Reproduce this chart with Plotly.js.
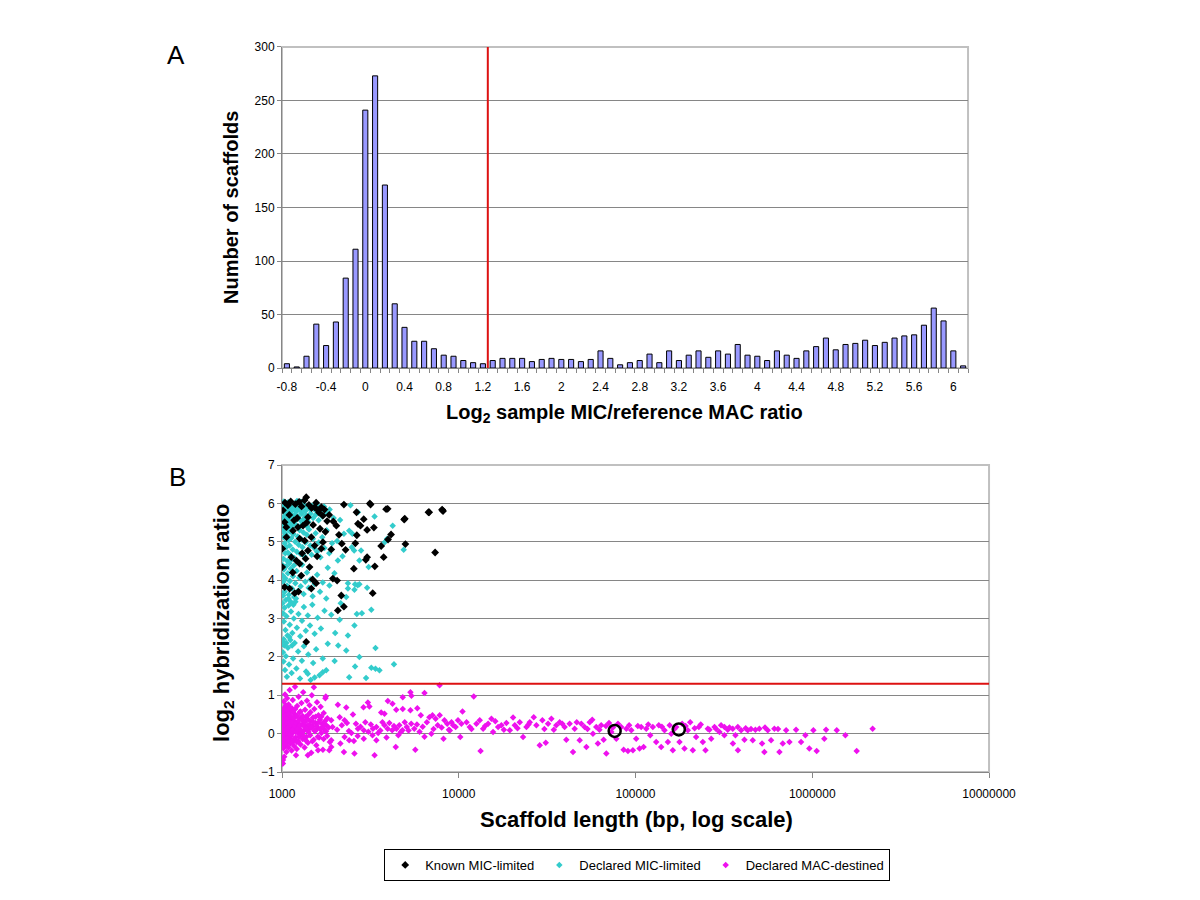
<!DOCTYPE html>
<html>
<head>
<meta charset="utf-8">
<script src="https://cdn.plot.ly/plotly-3.0.1.min.js"></script>
<style>
  body { margin: 0; background: #ffffff; }
  #chart { width: 1200px; height: 900px; }
</style>
</head>
<body>
<div id="chart"></div>
<script>
// Panel A: histogram of log2 MIC/MAC ratios (bins of 0.1)
const binCenters = [-0.8, -0.7, -0.6, -0.5, -0.4, -0.3, -0.2, -0.1, 0.0, 0.1,
  0.2, 0.3, 0.4, 0.5, 0.6, 0.7, 0.8, 0.9, 1.0, 1.1,
  1.2, 1.3, 1.4, 1.5, 1.6, 1.7, 1.8, 1.9, 2.0, 2.1,
  2.2, 2.3, 2.4, 2.5, 2.6, 2.7, 2.8, 2.9, 3.0, 3.1,
  3.2, 3.3, 3.4, 3.5, 3.6, 3.7, 3.8, 3.9, 4.0, 4.1,
  4.2, 4.3, 4.4, 4.5, 4.6, 4.7, 4.8, 4.9, 5.0, 5.1,
  5.2, 5.3, 5.4, 5.5, 5.6, 5.7, 5.8, 5.9, 6.0, 6.1];
const scaffoldCounts = [4, 1, 11, 41, 21, 43, 84, 111, 241, 273,
  171, 60, 38, 25, 25, 18, 12, 11, 7, 5,
  4, 7, 9, 9, 9, 6, 8, 9, 8, 8,
  6, 8, 16, 9, 3, 5, 7, 13, 5, 16,
  7, 12, 16, 10, 16, 13, 22, 12, 11, 7,
  16, 12, 9, 16, 20, 28, 17, 22, 23, 26,
  21, 24, 28, 30, 31, 40, 56, 44, 16, 2];
const histTickVals = [-0.8, -0.4, 0, 0.4, 0.8, 1.2, 1.6, 2, 2.4, 2.8, 3.2, 3.6, 4, 4.4, 4.8, 5.2, 5.6, 6];
const histTickText = ['-0.8', '-0.4', '0', '0.4', '0.8', '1.2', '1.6', '2', '2.4', '2.8', '3.2', '3.6', '4', '4.4', '4.8', '5.2', '5.6', '6'];
const histCutoff = 1.25;

// Panel B: [scaffold length (bp), log2 hybridization ratio]
const knownMic = [[1371,6.16],[2240,5.97],[3170,5.97],[3880,5.85],[6740,5.77],[8050,5.84],[8150,5.80],[4950,5.60],[2900,5.59],[2690,5.47],
  [2780,5.42],[3310,5.37],[3030,5.31],[2030,5.42],[1950,5.53],[1800,5.54],[1850,5.70],[1670,5.90],[4140,5.19],[3980,5.06],
  [3640,4.89],[3760,4.60],[4990,4.94],[7350,4.72],[2600,4.96],[2650,5.17],[2180,4.95],[2100,5.18],[1900,4.80],[3030,4.60],
  [2980,4.53],[3350,4.36],[2550,4.30],[2290,4.79],[1013,5.82],[1035,5.51],[1058,5.38],[1154,5.29],[1231,5.38],[1314,5.42],
  [1402,5.64],[1530,5.90],[1597,5.82],[1704,5.68],[1259,5.08],[1344,5.03],[1465,5.12],[1530,4.90],[1402,4.77],[1668,4.82],
  [1704,4.99],[1005,4.82],[1003,4.34],[1129,4.60],[1205,4.51],[1259,4.43],[1432,4.34],[1285,4.12],[1035,3.82],[1105,3.78],
  [1465,3.78],[1940,4.04],[2050,3.99],[2165,3.60],[2240,3.31],[2070,3.21],[3260,3.66],[1180,3.66],[1371,2.39],[2640,5.77],
  [3140,6.00],[3960,5.86],[4910,5.58],[6800,5.77],[8080,5.82],[1040,6.02],[1080,5.95],[1120,6.05],[1190,5.98],[1250,6.04],
  [1290,5.92],[1340,6.08],[1420,5.96],[1470,5.88],[1560,6.02],[1620,5.76],[1740,5.84],[1100,5.70],[1170,5.56],[1220,5.62],
  [1380,5.50],[1500,5.44],[1640,5.34],[1760,5.26],[1060,5.12],[1300,4.70],[1360,4.56],[1580,4.62],[1150,4.20],[1490,4.02],
  [1560,3.92],[1240,3.70]];

const declaredMic = [[1005,6.02],[1012,5.92],[1018,5.85],[1025,6.05],[1030,5.78],[1038,5.96],[1045,5.88],[1052,6.00],[1060,5.72],[1068,5.90],
  [1075,5.82],[1083,6.03],[1090,5.66],[1098,5.94],[1106,5.86],[1115,5.74],[1124,6.00],[1133,5.80],[1142,5.92],[1150,5.60],
  [1160,5.98],[1170,5.84],[1180,5.70],[1192,5.94],[1204,5.78],[1216,6.06],[1228,5.88],[1240,5.66],[1253,5.96],[1266,5.82],
  [1280,6.04],[1295,5.74],[1310,5.90],[1325,5.58],[1340,5.96],[1356,5.80],[1372,5.68],[1390,5.92],[1410,5.52],[1430,5.86],
  [1452,5.74],[1475,5.94],[1500,5.62],[1525,5.84],[1550,5.70],[1580,5.96],[1610,5.56],[1650,5.80],[1690,5.66],[1730,5.92],
  [1800,5.74],[1860,5.84],
  [1008,5.45],[1015,5.30],[1022,5.12],[1028,5.38],[1035,4.96],[1042,5.22],[1050,5.48],[1058,4.86],[1065,5.16],[1072,5.34],
  [1080,4.72],[1088,5.04],[1096,5.42],[1104,4.90],[1112,5.26],[1122,4.64],[1130,5.10],[1140,5.36],[1150,4.80],[1162,5.20],
  [1175,4.58],[1188,5.00],[1200,5.44],[1214,4.74],[1228,5.14],[1243,4.92],[1258,5.30],[1274,4.68],[1290,5.06],[1306,4.86],
  [1322,5.24],[1340,4.62],[1360,4.98],[1380,5.18],[1400,4.76],[1422,5.32],[1446,4.90],[1470,4.66],[1496,5.08],[1522,4.84],
  [1550,5.22],[1580,4.74],[1614,4.98],[1650,4.60],[1690,5.12],[1740,4.84],[1790,5.30],[1850,4.70],[1920,4.96],
  [1004,4.40],[1010,4.12],[1018,3.96],[1026,4.28],[1036,3.70],[1046,4.04],[1056,4.36],[1068,3.86],[1080,4.18],[1094,3.62],
  [1108,3.98],[1122,4.30],[1138,3.78],[1154,4.10],[1172,3.56],[1190,3.92],[1210,4.24],[1230,3.72],[1252,4.06],[1276,3.84],
  [1300,4.40],[1326,3.64],[1354,3.96],[1384,4.20],[1416,3.80],[1450,4.02],[1490,3.58],[1530,3.90],[1580,4.14],[1640,3.70],
  [1700,3.94],[1780,3.52],
  [1006,3.40],[1014,3.14],[1024,2.92],[1034,3.28],[1046,2.70],[1060,3.06],[1074,2.56],[1090,3.34],[1106,2.84],[1124,3.18],
  [1144,2.62],[1166,3.00],[1190,3.44],[1214,2.76],[1240,3.12],[1268,2.54],[1298,2.94],[1330,3.30],[1364,2.68],[1400,3.08],
  [1440,2.82],[1484,3.36],[1530,2.60],[1590,3.02],[1660,2.74],[1740,3.20],
  [1004,2.40],[1012,2.12],[1020,1.88],[1030,2.30],[1040,1.66],[1052,2.02],[1066,1.48],[1080,2.24],[1096,1.80],[1114,2.44],
  [1134,1.58],[1156,1.96],[1180,2.36],[1206,1.70],[1234,2.14],[1264,1.44],[1296,1.90],[1330,2.28],[1368,1.62],[1408,2.06],
  [1452,1.40],[1500,1.84],[1560,2.20],[1630,1.52],[1700,1.96],
  [2440,5.95],[2690,5.77],[3340,5.66],[2130,5.57],[4230,5.42],[2400,5.29],[2500,5.21],[3930,5.08],[3810,4.99],[4880,4.79],
  [2240,5.21],[2480,4.86],[2560,4.77],[2070,4.51],[2800,4.77],[3090,4.34],[1815,4.32],[2740,4.51],[2360,3.78],[2680,3.87],
  [3030,3.80],[1855,3.86],[2360,3.92],[2590,3.89],[2740,3.89],[2570,3.75],[2310,3.56],[2650,3.12],[2830,3.14],[3200,3.23],
  [2120,2.97],[2570,2.82],[2360,2.56],[1815,2.34],[2310,2.17],[3380,2.23],[1985,1.89],[2740,2.00],[2590,1.75],[3200,1.72],
  [3380,1.69],[3560,1.65],[4300,1.81],[2990,1.45],[2400,1.47],[1780,1.65],[1700,1.60],[1400,1.56],[1530,1.46],
  [1960,5.62],[2050,5.02],[2200,4.62],[1980,4.18],[2150,3.40],[1900,3.10],[2000,2.62],[2080,2.30],
  [1010,5.62],[1032,5.54],[1048,5.70],[1070,5.58],[1094,5.50],[1118,5.64],[1146,5.46],[1176,5.52],[1208,5.60],[1236,5.40],
  [1270,5.56],[1302,5.46],[1346,5.64],[1386,5.40],[1020,4.56],[1044,4.70],[1070,4.50],[1100,4.44],[1136,4.54],[1168,4.38],
  [1016,3.60],[1052,3.48],[1088,3.52],[1120,3.44],[1160,3.36],[1200,3.52],[1022,2.46],[1058,2.36],[1100,2.52],[1140,2.30]];

const declaredMac = [[1002,0.12],[1004,-0.22],[1006,0.45],[1008,0.02],[1010,-0.78],[1012,0.30],[1014,-0.10],[1016,0.62],[1018,0.18],[1020,-0.38],
  [1022,0.08],[1024,0.84],[1026,-0.04],[1028,0.36],[1030,-0.60],[1032,0.22],[1034,0.54],[1036,-0.16],[1038,0.10],[1040,1.02],
  [1042,0.28],[1044,-0.30],[1046,0.04],[1048,0.70],[1050,0.16],[1053,-0.08],[1056,0.40],[1059,-0.48],[1062,0.24],[1065,0.06],
  [1068,0.92],[1071,-0.20],[1074,0.50],[1077,0.14],[1080,-0.02],[1083,0.32],[1086,-0.36],[1089,0.76],[1092,0.20],[1095,0.00],
  [1098,0.44],[1101,-0.12],[1105,1.14],[1109,0.26],[1113,-0.26],[1117,0.58],[1121,0.10],[1125,-0.06],[1129,0.38],[1133,-0.44],
  [1137,0.66],[1141,0.18],[1145,0.02],[1150,0.88],[1155,-0.18],[1160,0.34],[1165,0.12],[1170,-0.32],[1175,0.52],[1180,0.06],
  [1185,1.22],[1190,0.22],[1195,-0.10],[1200,0.46],[1206,0.14],[1212,-0.40],[1218,0.72],[1224,0.04],[1230,0.30],[1236,-0.20],
  [1242,0.96],[1248,0.18],[1254,-0.02],[1260,0.56],[1267,0.10],[1274,-0.28],[1281,0.40],[1288,0.80],[1295,0.00],[1302,0.24],
  [1310,-0.14],[1318,1.08],[1326,0.34],[1334,0.08],[1342,-0.36],[1350,0.62],[1358,0.16],[1366,0.44],[1375,-0.08],[1384,0.86],
  [1393,0.20],[1402,-0.24],[1412,0.50],[1422,0.12],[1432,0.74],[1442,-0.04],[1453,0.32],[1464,-0.50],[1475,1.00],[1487,0.18],
  [1499,0.42],[1511,-0.16],[1524,0.64],[1537,0.06],[1550,0.28],[1564,-0.30],[1578,0.82],[1592,0.14],[1607,0.48],[1622,-0.10],
  [1638,0.36],[1654,0.70],[1670,0.02],[1687,0.26],[1704,-0.42],[1722,0.54],[1740,0.10],[1760,0.92],[1780,0.22],[1800,-0.06],
  [1003,0.26],[1007,0.58],[1011,-0.34],[1015,0.14],[1019,0.40],[1023,-0.02],[1027,0.66],[1031,0.08],[1035,0.32],[1039,-0.14],
  [1043,0.48],[1047,0.20],[1051,0.74],[1055,-0.26],[1060,0.12],[1064,0.38],[1069,0.28],[1073,-0.12],[1078,0.60],[1082,0.16],
  [1087,0.04],[1091,0.52],[1096,-0.20],[1100,0.30],[1106,0.08],[1111,0.68],[1116,-0.02],[1122,0.24],[1128,0.44],[1134,0.06],
  [1140,-0.24],[1147,0.30],[1153,0.58],[1159,0.10],[1166,0.40],[1173,-0.14],[1181,0.20],[1188,0.64],[1196,0.04],[1204,0.28],
  [1213,-0.22],[1222,0.46],[1231,0.12],[1241,0.34],[1251,-0.08],[1262,0.22],[1273,0.58],[1285,0.08],[1297,0.36],[1309,0.46],
  [1322,-0.06],[1336,0.20],[1350,0.30],[1365,-0.18],[1380,0.14],[1396,0.38],[1413,0.04],[1430,0.24],[1448,0.56],[1467,0.16],
  [1486,-0.20],[1506,0.30],[1527,0.08],[1548,0.44],[1570,0.20],[1594,-0.08],[1618,0.30],[1643,0.12],[1668,0.44],[1694,0.18],
  [1720,-0.14],[1748,0.32],[1776,0.06],[1805,0.40],[1835,0.16],[1866,-0.22],
  [7790,1.26],[6400,1.06],[5330,1.08],[5400,0.99],[4820,0.95],[3970,0.85],[4220,0.78],[3060,0.81],[2890,0.69],[3120,0.71],
  [3640,0.55],[3800,0.52],[4430,0.62],[4820,0.64],[5330,0.61],[5830,0.66],[6100,0.48],[2070,0.75],[2310,0.68],[2520,0.50],
  [2120,0.43],[2260,0.35],[1900,0.35],[1930,0.17],[1770,0.97],[1515,1.21],[2390,0.07],[2690,0.13],[2900,0.09],[3080,0.05],
  [3270,0.13],[3420,0.17],[3500,0.02],[3800,0.22],[3960,0.13],[4200,0.09],[4440,0.13],[4610,0.22],[4800,0.09],[5080,0.17],
  [5380,0.26],[5600,0.13],[6000,0.05],[6820,0.43],[7100,0.48],[7400,0.39],[7800,0.48],[8300,0.35],[8600,0.26],[9100,0.30],
  [9600,0.17],[9900,0.35],[10200,-0.09],[8200,-0.13],[7000,0.00],[2260,-0.09],[2400,-0.17],[2550,-0.19],[2240,-0.48],[2570,-0.52],
  [3340,-0.56],[4400,-0.35],[5680,-0.42],[3420,-0.17],[2900,-0.13],[1900,-0.17],[1900,-0.35],[1850,-0.43],[1600,-0.43],[1400,-0.56],
  [1200,-0.56],[1013,-0.69],[1010,-0.78],
  [2050,0.10],[2180,0.22],[2330,0.28],[2470,0.02],[2620,0.26],[2780,0.18],[2960,0.30],[3180,0.24],[3600,0.08],[3700,0.30],
  [4050,0.28],[4300,0.20],[4700,0.04],[4950,0.30],[5200,0.08],[5800,0.24],[6250,0.18],[6600,0.30],[7200,0.12],[7600,0.22],
  [8000,0.16],[8800,0.10],[9300,0.22],[2140,-0.26],[2680,-0.06],[3250,-0.04],[3900,-0.10],[4550,-0.04],[6400,-0.08],[8900,0.08],
  [10350,0.26],[11070,0.30],[11540,0.17],[12590,0.26],[13150,0.35],[13740,0.13],[14660,0.26],[15310,0.39],[15640,0.04],[16700,0.17],
  [17420,0.22],[18600,0.28],[19440,0.09],[20290,0.42],[20750,0.22],[22140,0.30],[23110,-0.09],[24150,0.17],[25220,0.30],[26570,0.43],
  [27490,0.22],[28710,-0.30],[29720,0.35],[31050,-0.24],[32000,0.26],[33420,0.39],[35650,0.22],[37240,0.30],[39720,0.17],[40610,-0.16],
  [42400,0.26],[44290,-0.48],[45260,0.13],[48310,-0.17],[49360,0.26],[51540,0.17],[52720,-0.35],[55050,0.30],[56930,0.36],[57410,0.00],
  [59980,0.17],[61240,-0.26],[63940,0.22],[66000,-0.16],[68340,-0.52],[70790,0.28],[72950,0.04],[77880,-0.13],[79560,0.26],[82980,0.17],
  [85650,-0.42],[88720,0.13],[90620,-0.45],[94640,0.09],[96660,-0.43],[100900,-0.13],[105400,-0.39],[107700,0.17],[111100,-0.35],[115000,0.13],
  [121100,-0.04],[125300,0.17],[130900,-0.22],[135500,0.22],[139700,-0.35],[145900,0.09],[152400,-0.22],[159200,0.00],[162600,-0.43],[169900,0.17],
  [177400,-0.22],[183600,0.26],[189200,-0.39],[197600,0.09],[203800,0.30],[210900,-0.43],[220300,-0.09],[228100,0.17],[240300,-0.22],[248800,-0.43],
  [256400,0.13],[267900,-0.13],[279800,0.17],[298600,0.04],[318600,0.17],
  [12160,0.97],[10500,0.58],[13280,-0.45],[11800,0.12],[14100,0.20],[16100,0.32],[18000,0.10],[21500,0.14],[24800,0.24],[30500,0.12],
  [34500,0.10],[38500,0.26],[46500,0.30],[53500,0.12],[62500,0.10],[68000,0.20],[74500,0.16],[92000,0.22],[103000,0.20],[118000,0.24],
  [141000,0.18],[156000,0.22],[166000,0.12],[192000,0.20],[216000,0.14],[234000,0.24],[262000,0.10],[286000,0.12],
  [304800,0.22],[318100,-0.04],[332500,0.10],[355000,0.13],[355500,-0.26],[367500,-0.04],[379100,0.17],[379600,-0.43],[395700,0.09],[413300,-0.16],
  [431500,0.09],[460500,-0.17],[476700,0.10],[502100,0.13],[519700,-0.26],[535900,-0.48],[559800,0.09],[584600,-0.17],[610500,0.13],[651800,-0.48],
  [680800,-0.26],[711000,0.09],[742500,-0.22],[809800,0.10],[863800,-0.22],[914000,-0.04],[961800,-0.39],[1014000,0.09],[1059000,-0.45],[1170000,-0.13],
  [1197000,0.10],[1375000,0.09],[1539000,-0.04],[1783000,-0.45],[2194000,0.13],[340000,0.16],[420000,0.14],[450000,0.12],[540000,0.16],[640000,0.12]];

// Two scaffolds highlighted with open ellipses
const highlighted = [[76200, 0.07], [175800, 0.11]];

const lengthTickVals = [1000, 10000, 100000, 1000000, 10000000];
const lengthTickText = ['1000', '10000', '100000', '1000000', '10000000'];
const hybridCutoff = 1.3;

const FONT = 'Liberation Sans, Arial, sans-serif';
const GRID = '#868686';
const col = (rows, i) => rows.map(r => r[i]);

const traces = [
  {
    type: 'bar', x: binCenters, y: scaffoldCounts, width: 0.052,
    xaxis: 'x', yaxis: 'y', showlegend: false, hoverinfo: 'x+y',
    marker: { color: '#9999ff', line: { color: '#000000', width: 1 } },
  },
  {
    type: 'scatter', mode: 'markers', name: 'Declared MAC-destined', legendrank: 3,
    x: col(declaredMac, 0), y: col(declaredMac, 1), xaxis: 'x2', yaxis: 'y2',
    marker: { symbol: 'diamond', size: 5, color: '#ee11ee' },
  },
  {
    type: 'scatter', mode: 'markers', name: 'Declared MIC-limited', legendrank: 2,
    x: col(declaredMic, 0), y: col(declaredMic, 1), xaxis: 'x2', yaxis: 'y2',
    marker: { symbol: 'diamond', size: 5, color: '#33cccc' },
  },
  {
    type: 'scatter', mode: 'markers', name: 'Known MIC-limited', legendrank: 1,
    x: col(knownMic, 0), y: col(knownMic, 1), xaxis: 'x2', yaxis: 'y2',
    marker: { symbol: 'diamond', size: 6, color: '#000000' },
  },
  {
    type: 'scatter', mode: 'markers', showlegend: false,
    x: col(highlighted, 0), y: col(highlighted, 1), xaxis: 'x2', yaxis: 'y2',
    marker: { symbol: 'circle-open', size: 12, color: '#000000', line: { width: 2.5, color: '#000000' } },
  },
];

const tickFont = { family: FONT, size: 12, color: '#000000' };
const titleFont = { family: FONT, size: 20, color: '#000000' };
const note = (text, x, y, size, extra) => Object.assign({
  text, x, y, xref: 'paper', yref: 'paper', xanchor: 'center', yanchor: 'middle',
  showarrow: false, font: { family: FONT, size, color: '#000000' },
}, extra || {});

const layout = {
  width: 1200, height: 900,
  margin: { l: 0, r: 0, t: 0, b: 0 },
  paper_bgcolor: '#ffffff', plot_bgcolor: '#ffffff',
  font: { family: FONT, color: '#000000' },
  bargap: 0,
  xaxis: {
    domain: [0.235, 0.8067], range: [-0.85, 6.15],
    tickmode: 'array', tickvals: histTickVals, ticktext: histTickText,
    ticks: '', showgrid: false, zeroline: false,
    showline: true, linecolor: GRID, linewidth: 1,
    tickfont: tickFont, ticklabelstandoff: 8,
    minor: { ticks: 'outside', ticklen: 4, tickcolor: GRID, tick0: -0.85, dtick: 0.1, showgrid: false },
  },
  yaxis: {
    domain: [0.5911, 0.9478], range: [0, 300], dtick: 50,
    showgrid: true, gridcolor: GRID, zeroline: false,
    showline: true, linecolor: GRID, ticks: 'outside', ticklen: 4, tickcolor: GRID,
    tickfont: tickFont,
  },
  xaxis2: {
    domain: [0.235, 0.8242], type: 'log', range: [3, 7], anchor: 'y2',
    tickmode: 'array', tickvals: lengthTickVals, ticktext: lengthTickText,
    showgrid: false, zeroline: false,
    showline: true, linecolor: GRID, ticks: 'outside', ticklen: 5, tickcolor: GRID,
    tickfont: tickFont, ticklabelstandoff: 6,
  },
  yaxis2: {
    domain: [0.1422, 0.4833], range: [-1, 7], dtick: 1, anchor: 'x2',
    showgrid: true, gridcolor: GRID, zeroline: false,
    showline: true, linecolor: GRID, ticks: 'outside', ticklen: 4, tickcolor: GRID,
    tickfont: tickFont,
  },
  shapes: [
    { type: 'rect', xref: 'x domain', yref: 'y domain', x0: 0, x1: 1, y0: 0, y1: 1,
      line: { color: '#c0c0c0', width: 2 }, layer: 'below' },
    { type: 'rect', xref: 'x2 domain', yref: 'y2 domain', x0: 0, x1: 1, y0: 0, y1: 1,
      line: { color: '#c0c0c0', width: 2 }, layer: 'below' },
    { type: 'line', xref: 'x', yref: 'y domain', x0: histCutoff, x1: histCutoff, y0: 0, y1: 1,
      line: { color: '#dd1111', width: 2 } },
    { type: 'line', xref: 'x2 domain', yref: 'y2', x0: 0, x1: 1, y0: hybridCutoff, y1: hybridCutoff,
      line: { color: '#dd1111', width: 2 } },
  ],
  annotations: [
    note('A', 0.1467, 0.9389, 26),
    note('B', 0.1483, 0.47, 26),
    note('<b>Number of scaffolds</b>', 0.1925, 0.7689, 20, { textangle: -90 }),
    note('<b>Log<sub>2</sub> sample MIC/reference MAC ratio</b>', 0.5208, 0.54, 20),
    note('<b>log<sub>2</sub> hybridization ratio</b>', 0.1858, 0.3078, 22, { textangle: -90 }),
    note('<b>Scaffold length (bp, log scale)</b>', 0.53, 0.0889, 22),
  ],
  legend: {
    orientation: 'h', x: 0.531, xanchor: 'center', y: 0.0389, yanchor: 'middle',
    bordercolor: '#000000', borderwidth: 1, bgcolor: '#ffffff',
    font: { family: FONT, size: 13, color: '#000000' }, itemwidth: 30,
  },
};

Plotly.newPlot('chart', traces, layout, { displayModeBar: false, staticPlot: true });
</script>
</body>
</html>
